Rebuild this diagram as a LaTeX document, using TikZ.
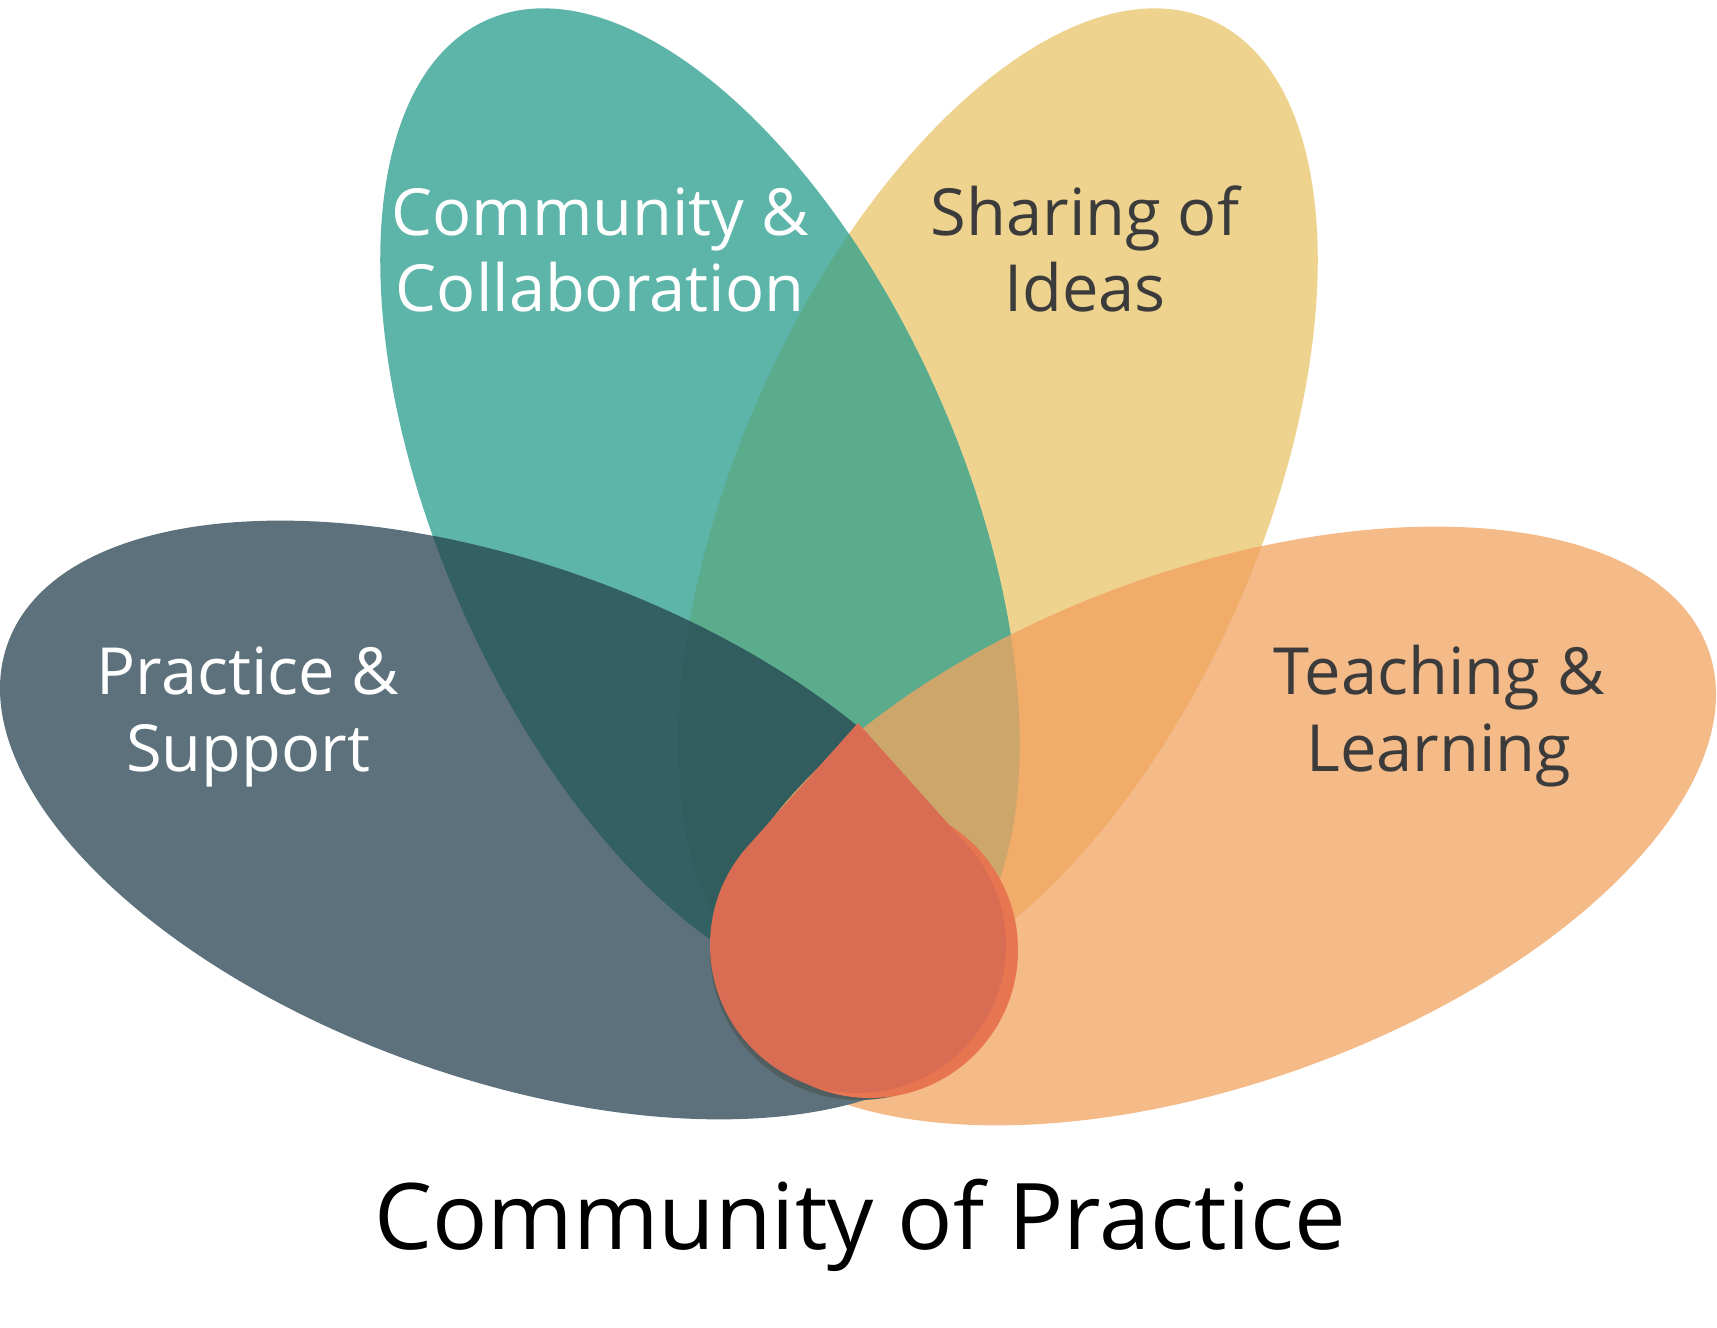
\documentclass[tikz,border=0pt]{standalone}
\usepackage{fontspec}
\setmainfont{Open Sans}
\definecolor{colT}{HTML}{5DB5A9}
\definecolor{colY}{HTML}{EED38F}
\definecolor{colD}{HTML}{5C717B}
\definecolor{colO}{HTML}{F4BA88}
\definecolor{colTD}{HTML}{336063}
\definecolor{colTY}{HTML}{5BAB8D}
\definecolor{colYO}{HTML}{F1AC6A}
\definecolor{colTYO}{HTML}{CDA66C}
\definecolor{colTDY}{HTML}{325D5E}
\definecolor{colDrop}{HTML}{D96D53}
\definecolor{colBright}{HTML}{E67550}
\definecolor{colShadow}{HTML}{505E60}
\definecolor{colText}{HTML}{3B3B3B}
\tikzset{
  rotT/.style={rotate around={-66.2:(700,826)}},
  rotY/.style={rotate around={66.2:(998,826)}},
  rotD/.style={rotate around={-19.7:(500,508)}},
  rotO/.style={rotate around={19.7:(1216,502)}},
  lab/.style={font=\fontsize{65}{77}\selectfont, anchor=base, inner sep=0pt},
  ttl/.style={font=\fontsize{92}{100}\selectfont, anchor=base, inner sep=0pt}
}
\newcommand\shT[1]{\path[rotT,#1] (700,826) ellipse [x radius=527, y radius=261];}
\newcommand\shY[1]{\path[rotY,#1] (998,826) ellipse [x radius=527, y radius=261];}
\newcommand\shD[1]{\path[rotD,#1] (500,508) ellipse [x radius=523, y radius=257];}
\newcommand\shO[1]{\path[rotO,#1] (1216,502) ellipse [x radius=523, y radius=257];}
\newcommand\clT{\clip[rotT] (700,826) ellipse [x radius=527, y radius=261];}
\newcommand\clY{\clip[rotY] (998,826) ellipse [x radius=527, y radius=261];}
\newcommand\clD{\clip[rotD] (500,508) ellipse [x radius=523, y radius=257];}
\begin{document}
\begin{tikzpicture}[x=1pt,y=1pt]
\useasboundingbox (0,0) rectangle (1717,1328);
% petals
\shY{fill=colY}
\shT{fill=colT}
\shO{fill=colO}
\shD{fill=colD}
% overlaps
\begin{scope}\clT \shY{fill=colTY}\end{scope}
\begin{scope}\clT \shD{fill=colTD}\end{scope}
\begin{scope}\clT \clD \shY{fill=colTDY}\end{scope}
\begin{scope}\clY \shO{fill=colYO}\end{scope}
\begin{scope}\clT \clY \shO{fill=colTYO}\end{scope}
% drop
\fill[colShadow] (859,377) circle [radius=149];
\fill[colBright] (870,378) circle [radius=148];
\fill[colDrop] (858,605) -- (747.7,481.7) arc[start angle=138.19, end angle=401.81, radius=148] -- cycle;
% labels
\node[lab, text=white] (cc1) at (600,1092) {Community \&};
\node[lab, text=white] (cc2) at (600,1016) {Collaboration};
\node[lab, text=colText] (si1) at (1085,1092) {Sharing of};
\node[lab, text=colText] (si2) at (1085,1016) {Ideas};
\node[lab, text=white] (ps1) at (248,633) {Practice \&};
\node[lab, text=white] (ps2) at (248,556) {Support};
\node[lab, text=colText] (tl1) at (1439,633) {Teaching \&};
\node[lab, text=colText] (tl2) at (1439,556) {Learning};
\node[ttl] (title) at (860,78) {Community of Practice};
\end{tikzpicture}
\end{document}
